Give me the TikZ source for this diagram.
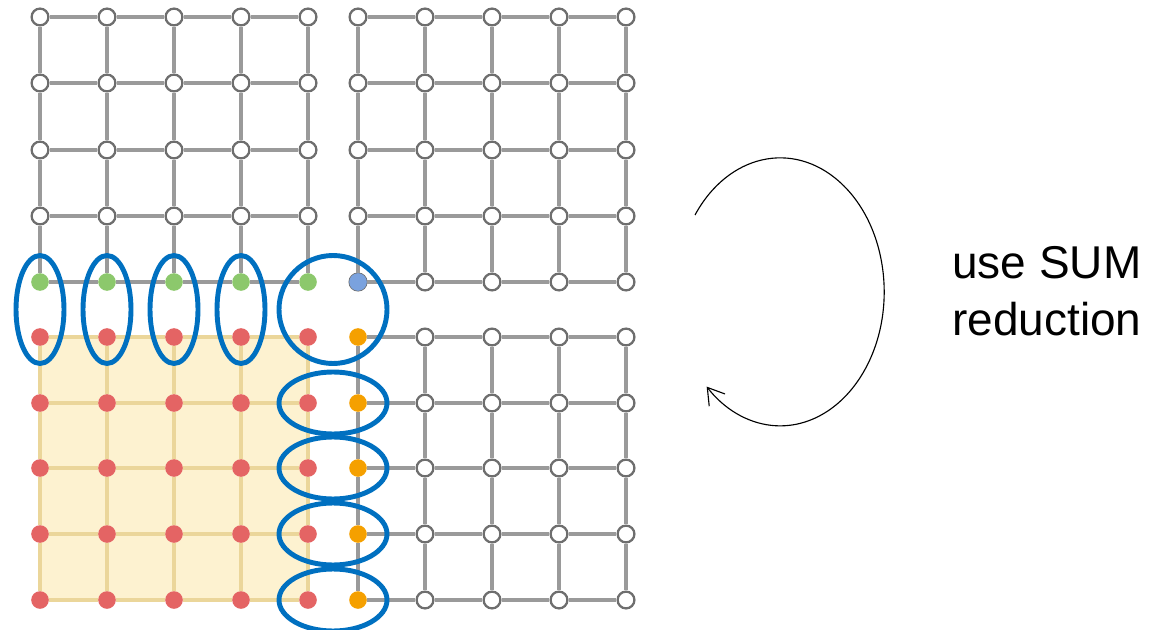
\documentclass[tikz,border=0pt]{standalone}
\usepackage{fontspec}
\setmainfont{Liberation Sans}
\usetikzlibrary{arrows.meta, calc, backgrounds}

\definecolor{gridgray}{HTML}{9A9A9A}
\definecolor{rimgray}{HTML}{6E6E6E}
\definecolor{haloline}{HTML}{EBD69A}
\definecolor{halofill}{HTML}{FDF2D0}
\definecolor{leafgreen}{HTML}{8CC86C}
\definecolor{skyblue}{HTML}{7AA2DE}
\definecolor{rosered}{HTML}{E46464}
\definecolor{amber}{HTML}{F5A000}
\definecolor{ringblue}{HTML}{0070C0}

\begin{document}
\begin{tikzpicture}[
    x=0.025cm, y=-0.025cm,
    free/.style={circle, draw=rimgray, fill=white, line width=1.6pt, minimum size=0.42cm, inner sep=0pt},
    dot/.style={circle, fill=#1, minimum size=0.44cm, inner sep=0pt},
    link/.style={draw=gridgray, line width=2.3pt},
    halo link/.style={draw=haloline, line width=2.3pt},
    group/.style={draw=ringblue, line width=3.5pt},
    cycle arrow/.style={-{Straight Barb[length=4mm, width=5mm]}, line width=0.8pt},
    note/.style={font=\fontsize{32.7}{40.5}\selectfont, align=left, inner sep=0pt}
]
    \useasboundingbox (0,0) rectangle (1152,630);

    % Top left block: white nodes, green bottom row
    \foreach \x [count=\i] in {40,107,174,241,308} {
        \foreach \y [count=\j] in {17,83,150,216}
            \node[free] (tl-\i-\j) at (\x,\y) {};
        \node[dot=leafgreen] (tl-\i-5) at (\x,282) {};
    }

    % Top right block: blue corner node
    \foreach \x [count=\i] in {358,425,492,559,626} {
        \foreach \y [count=\j] in {17,83,150,216,282}
            \node[free] (tr-\i-\j) at (\x,\y) {};
    }
    \node[dot=skyblue] (tr-1-5) at (358,282) {};

    % Bottom right block: orange first column
    \foreach \x [count=\i] in {358,425,492,559,626} {
        \foreach \y [count=\j] in {337,403,468,534,600} {
            \ifnum\i=1
                \node[dot=amber] (br-\i-\j) at (\x,\y) {};
            \else
                \node[free] (br-\i-\j) at (\x,\y) {};
            \fi
        }
    }

    % Bottom left block: red nodes on yellow
    \foreach \x [count=\i] in {40,107,174,241,308} {
        \foreach \y [count=\j] in {337,403,468,534,600}
            \node[dot=rosered] (bl-\i-\j) at (\x,\y) {};
    }
    \begin{scope}[on background layer]
        \fill[halofill] (bl-1-1.center) rectangle (bl-5-5.center);
    \end{scope}

    % Grid links
    \foreach \blk in {tl, tr, br} {
        \foreach \i [evaluate=\i as \n using int(\i+1)] in {1,...,4} {
            \foreach \j in {1,...,5} {
                \draw[link] (\blk-\i-\j) -- (\blk-\n-\j);
                \draw[link] (\blk-\j-\i) -- (\blk-\j-\n);
            }
        }
    }
    \foreach \i [evaluate=\i as \n using int(\i+1)] in {1,...,4} {
        \foreach \j in {1,...,5} {
            \draw[halo link] (bl-\i-\j) -- (bl-\n-\j);
            \draw[halo link] (bl-\j-\i) -- (bl-\j-\n);
        }
    }

    % Halo groups
    \foreach \i in {1,...,4}
        \draw[group] ($(tl-\i-5)!0.5!(bl-\i-1)$) ellipse[x radius=24, y radius=54];
    \draw[group] ($(tl-5-5)!0.5!(br-1-1)$) circle[radius=54];
    \foreach \j in {2,...,5}
        \draw[group] ($(bl-5-\j)!0.5!(br-1-\j)$) ellipse[x radius=54, y radius=31];

    % Reduction arrow and label
    \coordinate (turn) at (695,215);
    \draw[cycle arrow] (turn) arc[start angle=215, end angle=495, x radius=104, y radius=134];
    \node[note, anchor=base west] (sum) at (952,335) {use SUM\\reduction};
\end{tikzpicture}
\end{document}
